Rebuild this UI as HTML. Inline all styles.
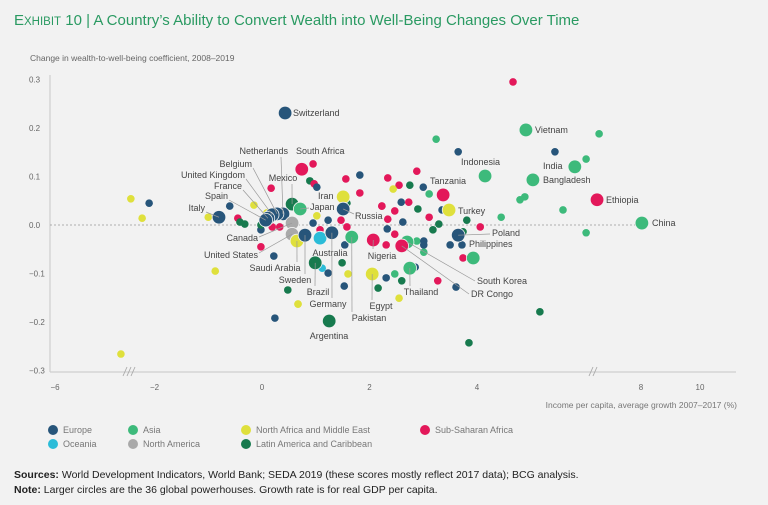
<!DOCTYPE html>
<html><head><meta charset="utf-8">
<style>
body{margin:0;background:#f2f2f2;}
svg{display:block;font-family:"Liberation Sans",sans-serif;}
</style></head>
<body>
<svg id="chart" width="768" height="505" viewBox="0 0 768 505">
<rect width="768" height="505" fill="#f2f2f2"/>
<text x="14" y="25" font-size="15" fill="#2a9a62"><tspan font-size="15">E</tspan><tspan font-size="11.5">XHIBIT</tspan> 10 | A Country’s Ability to Convert Wealth into Well-Being Changes Over Time</text>
<text x="30" y="61" font-size="8.5" fill="#666">Change in wealth-to-well-being coefficient, 2008–2019</text>
<g id="axes"></g>
<g id="marks"></g>
<g id="labels"></g>
<text x="737" y="408" font-size="8.5" fill="#777" text-anchor="end">Income per capita, average growth 2007–2017 (%)</text>
<g id="legend"></g>
<text x="14" y="478" font-size="10.5" fill="#222"><tspan font-weight="bold">Sources:</tspan> World Development Indicators, World Bank; SEDA 2019 (these scores mostly reflect 2017 data); BCG analysis.</text>
<text x="14" y="493" font-size="10.5" fill="#222"><tspan font-weight="bold">Note:</tspan> Larger circles are the 36 global powerhouses. Growth rate is for real GDP per capita.</text>
</svg>
<script>
const NS="http://www.w3.org/2000/svg";
const regionColors={E:"#27557a",A:"#3dba7b",M:"#dfe03c",S:"#e3185a",O:"#2bbcd8",N:"#a9a9a9",L:"#177a4e"};
const xTicks=[-6,-2,0,2,4,8,10];
const yTicks=[0.3,0.2,0.1,0.0,-0.1,-0.2,-0.3];
const bigNames=["Switzerland","South Africa","Mexico","Japan","Netherlands","Belgium","United Kingdom","France","Spain","Italy","Canada","United States","Saudi Arabia","Sweden","Australia","Germany","Brazil","Pakistan","Argentina","Iran","Russia","Nigeria","South Korea","DR Congo","Egypt","Thailand","Tanzania","Turkey","Indonesia","Poland","Philippines","Vietnam","India","Bangladesh","Ethiopia","China"];
const bigRegion=["E","S","L","A","E","E","E","E","E","E","N","N","M","E","O","E","L","A","L","M","E","S","A","S","M","A","S","M","A","E","A","A","A","A","S","A"];
const bigX=[0.43,0.74,0.56,0.71,0.39,0.28,0.19,0.11,0.07,-0.80,0.56,0.56,0.65,0.80,1.08,1.30,0.99,1.67,1.25,1.51,1.51,2.07,2.70,2.60,2.05,2.75,3.37,3.48,4.15,3.65,3.93,4.91,5.82,5.04,6.51,8.03];
const bigY=[0.231,0.115,0.043,0.033,0.023,0.023,0.021,0.014,0.010,0.016,0.004,-0.019,-0.033,-0.021,-0.027,-0.016,-0.078,-0.025,-0.198,0.058,0.033,-0.031,-0.035,-0.043,-0.101,-0.089,0.062,0.031,0.101,-0.021,-0.068,0.196,0.120,0.093,0.052,0.004];
const smallRegion=["M","M","E","M","M","E","M","M","S","L","L","S","S","E","S","E","M","L","E","S","S","E","S","L","S","E","S","L","M","E","S","S","E","S","E","A","E","S","S","S","M","L","E","A","E","S","S","S","E","L","L","E","L","S","S","S","A","E","E","A","S","S","L","A","E","E","L","S","E","L","E","M","M","O","E","M","S","A","E","A","A","A","A","A","L","L","S"];
const smallX=[-2.80,-2.44,-2.10,-2.23,-1.00,-0.60,-0.15,0.09,-0.45,-0.32,-0.41,0.19,0.33,-0.02,-0.02,0.22,-0.87,0.48,0.24,0.17,0.95,1.82,1.56,0.89,0.97,1.02,1.82,1.58,1.02,1.23,1.47,1.58,0.95,1.08,1.54,3.24,3.65,2.34,2.88,2.55,2.44,2.75,3.00,3.11,2.59,2.73,2.23,2.47,3.35,2.90,3.29,2.62,3.81,3.11,2.34,4.06,2.88,2.33,3.01,3.01,2.31,2.47,3.74,2.47,2.85,3.50,3.18,3.74,3.72,1.49,2.31,2.55,1.60,1.12,1.23,0.67,3.98,6.58,5.45,6.03,4.89,4.80,5.60,4.45,5.17,3.85,4.67];
const smallY=[-0.266,0.054,0.045,0.014,0.016,0.039,0.041,0.025,0.014,0.002,0.006,-0.004,-0.004,-0.010,-0.045,-0.064,-0.095,-0.134,-0.192,0.076,0.126,0.103,0.095,0.091,0.085,0.078,0.066,0.045,0.019,0.010,0.010,-0.004,0.004,-0.010,-0.041,0.177,0.151,0.097,0.111,0.082,0.074,0.082,0.078,0.064,0.047,0.047,0.039,0.029,0.031,0.033,0.002,0.006,0.010,0.016,0.012,-0.004,-0.033,-0.008,-0.033,-0.056,-0.041,-0.019,-0.014,-0.101,-0.087,-0.041,-0.010,-0.068,-0.041,-0.078,-0.109,-0.151,-0.101,-0.089,-0.099,-0.163,-0.068,0.188,0.151,0.136,0.058,0.052,0.031,0.016,-0.179,-0.243,0.295];
const extraRegion=["L","S","E","E","L","S","E","M","A","L"];
const extraX=[2.60,3.27,3.61,1.53,2.16,2.23,3.01,0.67,6.03,-0.02];
const extraY=[-0.115,-0.115,-0.128,-0.126,-0.130,0.039,-0.041,-0.163,-0.016,0.000];

function xs(v){
  if(v<=-2.6) return 55+(v+6)*20.6;
  if(v<=6.15) return 262+v*53.75;
  return 641+(v-8)*29.5;
}
function ys(v){return 225-v*485;}
function el(tag,attrs,parent){const e=document.createElementNS(NS,tag);for(const k in attrs)e.setAttribute(k,attrs[k]);parent.appendChild(e);return e;}

const axes=document.getElementById("axes");
yTicks.forEach(t=>{
  const tx=el("text",{x:29,y:ys(t)+3,"font-size":8,fill:"#666","text-anchor":"start"},axes);
  
  
  tx.textContent=(t<0?"−":"")+Math.abs(t).toFixed(1);
});
xTicks.forEach(t=>{
  const tx=el("text",{x:xs(t),y:390,"font-size":8,fill:"#666","text-anchor":"middle"},axes);
  
  
  tx.textContent=(t<0?"−":"")+Math.abs(t);
});
const base=el("line",{x1:50,y1:372,x2:736,y2:372,stroke:"#cfcfcf","stroke-width":1.3},axes);


const yl=el("line",{x1:50,y1:75,x2:50,y2:372,stroke:"#cfcfcf","stroke-width":1.2},axes);


const zero=el("line",{x1:50,y1:ys(0),x2:640,y2:ys(0),stroke:"#999","stroke-width":0.8,"stroke-dasharray":"2,2"},axes);


[[123,127,131],[589,593]].forEach(g=>{g.forEach(x=>{
  const b=el("line",{x1:x,y1:376,x2:x+4,y2:367,stroke:"#aaa","stroke-width":0.9},axes);
  
  
});});

const marks=document.getElementById("marks");
function dot(r,x,y,rad,stroke){
  const c=el("circle",{cx:xs(x),cy:ys(y),r:rad,fill:regionColors[r]},marks);
  if(stroke){c.setAttribute("stroke","#f2f2f2");c.setAttribute("stroke-width","0.8");}
  return c;
}
smallX.forEach((x,i)=>{const c=dot(smallRegion[i],x,smallY[i],3.8,false);
  
  });
extraX.forEach((x,i)=>{const c=dot(extraRegion[i],x,extraY[i],3.8,false);
  
  });
const bigPos={};
bigX.forEach((x,i)=>{const c=dot(bigRegion[i],x,bigY[i],6.8,true);
  
  
  bigPos[bigNames[i]]=[xs(x),ys(bigY[i])];});

const labels=[
["Switzerland",293,116,"start",null],
["South Africa",296,154,"start",null],
["Netherlands",288,154,"end",[281,157]],
["Belgium",252,167,"end",[253,168]],
["United Kingdom",245,178,"end",[246,179]],
["Mexico",283,181,"middle",[292,184]],
["France",242,189,"end",[243,190]],
["Spain",228,199,"end",[229,200]],
["Italy",205,211,"end",[206,212]],
["Japan",310,210,"start",[309,208]],
["Iran",318,199,"start",null],
["Russia",355,219,"start",[354,214]],
["Canada",258,241,"end",[259,237]],
["United States",258,258,"end",[259,253]],
["Saudi Arabia",275,271,"middle",[297,262]],
["Sweden",295,283,"middle",[305,274]],
["Australia",330,256,"middle",null],
["Brazil",318,295,"middle",[315,286]],
["Germany",328,307,"middle",[332,298]],
["Pakistan",369,321,"middle",[352,312]],
["Argentina",329,339,"middle",null],
["Nigeria",382,259,"middle",[373,249]],
["Egypt",381,309,"middle",[372,300]],
["Thailand",421,295,"middle",[410,286]],
["South Korea",477,284,"start",[475,281]],
["DR Congo",471,297,"start",[469,294]],
["Tanzania",430,184,"start",null],
["Turkey",458,214,"start",null],
["Indonesia",461,165,"start",null],
["Poland",492,236,"start",[490,234]],
["Philippines",469,247,"start",null],
["Vietnam",535,133,"start",null],
["India",543,169,"start",null],
["Bangladesh",543,183,"start",null],
["Ethiopia",606,203,"start",null],
["China",652,226,"start",null]
];
const lg=document.getElementById("labels");
labels.forEach(l=>{
  if(l[4]){const p=bigPos[l[0]];
    const ln=el("line",{x1:l[4][0],y1:l[4][1],x2:p[0],y2:p[1],stroke:"#999","stroke-width":0.7},lg);
    
    }
  const t=el("text",{x:l[1],y:l[2],"font-size":9,fill:"#444","text-anchor":l[3]},lg);
  
  
  t.textContent=l[0];
});

const legendNames=["Europe","Asia","North Africa and Middle East","Sub-Saharan Africa","Oceania","North America","Latin America and Caribbean"];
const legendKeys=["E","A","M","S","O","N","L"];
const legendX=[53,133,246,425,53,133,246];
const legendY=[430,430,430,430,444,444,444];
const lgd=document.getElementById("legend");
legendNames.forEach((n,i)=>{
  const g=el("g",{},lgd);
  
  
  el("circle",{cx:legendX[i],cy:legendY[i],r:5,fill:regionColors[legendKeys[i]]},g);
  const t=el("text",{x:legendX[i]+10,y:legendY[i]+3,"font-size":9,fill:"#777"},g);
  t.textContent=n;
});
</script>
</body></html>
